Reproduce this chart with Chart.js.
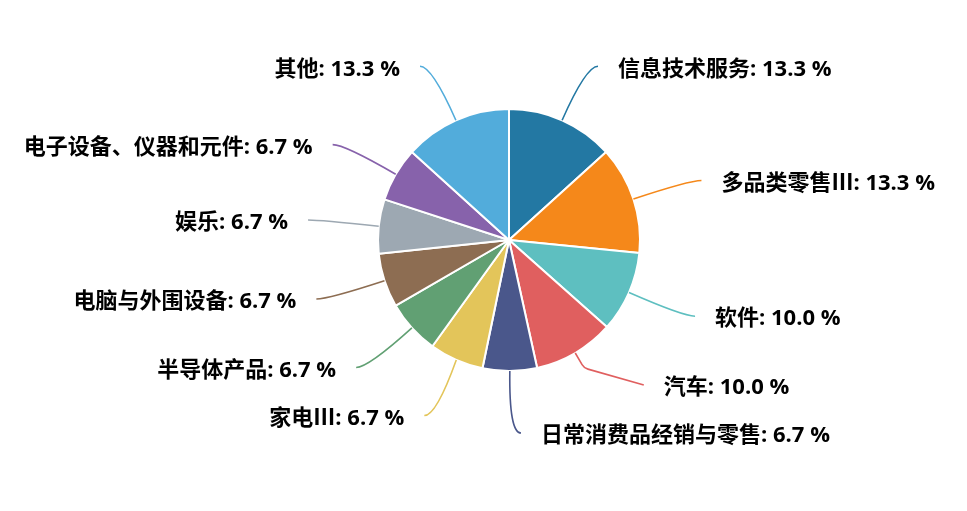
<!DOCTYPE html>
<html>
<head>
<meta charset="utf-8">
<script src="https://cdn.jsdelivr.net/npm/chart.js@4"></script>
<style>
  html, body { margin: 0; padding: 0; background: #fff; }
  #wrap { width: 967px; height: 511px; position: relative; }
</style>
</head>
<body>
<div id="wrap"><canvas id="pieChart"></canvas></div>
<script>
const categories = ["信息技术服务", "多品类零售Ⅲ", "软件", "汽车", "日常消费品经销与零售", "家电Ⅲ", "半导体产品", "电脑与外围设备", "娱乐", "电子设备、仪器和元件", "其他"];
const shares = [13.3, 13.3, 10.0, 10.0, 6.7, 6.7, 6.7, 6.7, 6.7, 6.7, 13.3];
const colors = ["#2378a3", "#f5881a", "#5ebfc0", "#e05f5f", "#4a578b", "#e3c55a", "#61a073", "#8d6d52", "#9da8b2", "#8762ab", "#52acdb"];

// outside labels with curved leader lines
const outsideLabels = {
  id: "outsideLabels",
  afterDatasetsDraw(chart) {
    const ctx = chart.ctx;
    const meta = chart.getDatasetMeta(0);
    const lineLen = 59, lineLen2 = 12, textGap = 20, minGap = 48;

    const items = meta.data.map((arc, i) => {
      const p = arc.getProps(["x", "y", "startAngle", "endAngle", "outerRadius"], true);
      const mid = (p.startAngle + p.endAngle) / 2;
      const cos = Math.cos(mid), sin = Math.sin(mid);
      const R = p.outerRadius + lineLen;
      return {
        i, cx: p.x, cy: p.y, r: p.outerRadius, R, cos, sin,
        sx: p.x + cos * p.outerRadius, sy: p.y + sin * p.outerRadius,
        ey: p.y + sin * R, ey0: p.y + sin * R, side: cos >= 0 ? 1 : -1,
      };
    });

    // push overlapping labels apart on each side
    [1, -1].forEach((side) => {
      const list = items.filter((it) => it.side === side).sort((a, b) => a.ey - b.ey);
      if (!list.length) return;
      const top = list[0].cy - list[0].R - 3;
      const bottom = list[0].cy + list[0].R + 3;
      for (let k = 1; k < list.length; k++) list[k].ey = Math.max(list[k].ey, list[k - 1].ey + minGap);
      list[list.length - 1].ey = Math.min(list[list.length - 1].ey, bottom);
      for (let k = list.length - 2; k >= 0; k--) list[k].ey = Math.min(list[k].ey, list[k + 1].ey - minGap);
      list[0].ey = Math.max(list[0].ey, top);
    });

    ctx.save();
    items.forEach((it) => {
      const dy = it.ey - it.cy;
      const ex = it.cx + it.side * Math.sqrt(Math.max(it.R * it.R - dy * dy, 0));
      const endX = ex + it.side * lineLen2;
      const shift = Math.abs(it.ey - it.ey0);

      ctx.beginPath();
      ctx.moveTo(it.sx, it.sy);
      if (shift > 4) {
        // moved label: short radial stub, then a straight run to the label
        const d = Math.max(it.r + 10, it.R - 2.2 * shift);
        ctx.arcTo(it.cx + it.cos * d, it.cy + it.sin * d, endX, it.ey, 10);
        ctx.lineTo(endX, it.ey);
      } else {
        ctx.quadraticCurveTo(ex, it.ey, endX, it.ey);
      }
      ctx.strokeStyle = colors[it.i];
      ctx.lineWidth = 1.6;
      ctx.stroke();

      ctx.font = "bold 22px 'Open Sans', 'Noto Sans CJK SC', sans-serif";
      ctx.fillStyle = "#000";
      ctx.textBaseline = "middle";
      ctx.textAlign = it.side > 0 ? "left" : "right";
      const text = `${categories[it.i]}: ${shares[it.i].toFixed(1)} %`;
      ctx.fillText(text, endX + it.side * textGap, it.ey + 3);
    });
    ctx.restore();
  },
};

new Chart(document.getElementById("pieChart"), {
  type: "pie",
  data: {
    labels: categories,
    datasets: [
      {
        data: shares,
        backgroundColor: colors,
        borderColor: "#fff",
        borderWidth: 2,
        hoverOffset: 0,
      },
    ],
  },
  options: {
    responsive: true,
    maintainAspectRatio: false,
    animation: false,
    radius: 131,
    layout: { padding: { top: 20, bottom: 51, left: 70, right: 19 } },
    plugins: { legend: { display: false }, tooltip: { enabled: false } },
  },
  plugins: [outsideLabels],
});
</script>
</body>
</html>
